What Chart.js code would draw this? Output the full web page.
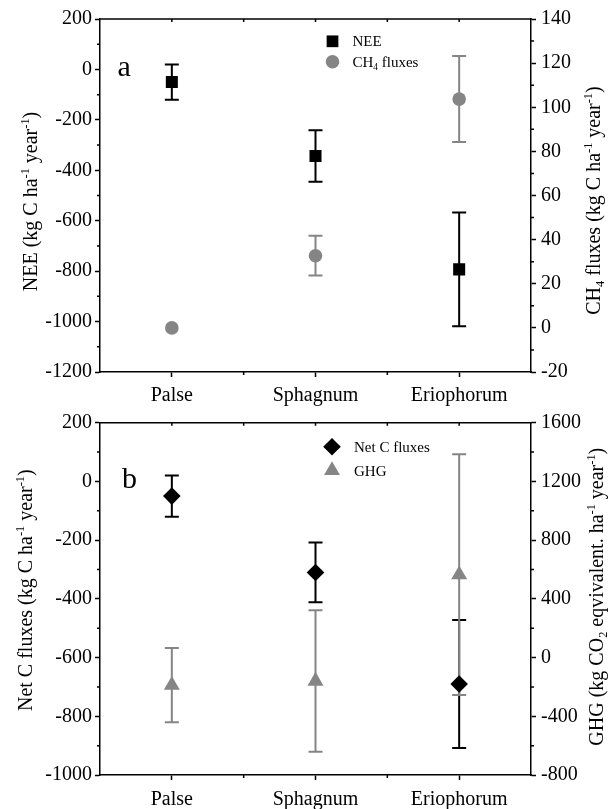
<!DOCTYPE html>
<html><head><meta charset="utf-8">
<script src="https://cdn.jsdelivr.net/npm/chart.js@4.4.0/dist/chart.umd.min.js"></script>
<style>
html,body{margin:0;padding:0;background:#fff;}
#wrap{position:relative;width:611px;height:809px;overflow:hidden;}
canvas{position:absolute;left:0;}
#c1{top:0;z-index:1}
#c2{top:400px;z-index:2}
</style></head><body>
<div id="wrap">
<canvas id="c1" width="611" height="412"></canvas>
<canvas id="c2" width="611" height="409"></canvas>
</div>
<script>
// ---------- data ----------
const categories = ['Palse', 'Sphagnum', 'Eriophorum'];
const neeValues  = [-50, -343, -793];
const neeErrors  = [70, 102, 226];
const ch4Values  = [0, 32.7, 103.7];
const ch4Errors  = [0, 9, 19.5];
const netCValues = [-50, -310, -690];
const netCErrors = [70, 102, 218];
const ghgValues  = [-188, -160, 565];
const ghgErrors  = [253, 482, 820];
const neeTicks  = [-1200, -1000, -800, -600, -400, -200, 0, 200];
const ch4Ticks  = [-20, 0, 20, 40, 60, 80, 100, 120, 140];
const netCTicks = [-1000, -800, -600, -400, -200, 0, 200];
const ghgTicks  = [-800, -400, 0, 400, 800, 1200, 1600];

// ---------- helpers ----------
const FONT = 'Liberation Serif';
Chart.defaults.font.family = FONT;
Chart.defaults.color = '#000';
const GREY = '#858585';

function drawRich(ctx, segs, x, y, angle, size, align) {
  ctx.save();
  ctx.translate(x, y);
  ctx.rotate(angle);
  ctx.fillStyle = '#000';
  ctx.textBaseline = 'alphabetic';
  ctx.textAlign = 'left';
  const fontFor = s => (s[1] ? size * 0.62 : size) + 'px "' + FONT + '"';
  let total = 0;
  segs.forEach(s => { ctx.font = fontFor(s); total += ctx.measureText(s[0]).width; });
  let cx = align === 'center' ? -total / 2 : 0;
  segs.forEach(s => {
    ctx.font = fontFor(s);
    const dy = s[1] === 1 ? -size * 0.42 : (s[1] === -1 ? size * 0.22 : 0);
    ctx.fillText(s[0], cx, dy);
    cx += ctx.measureText(s[0]).width;
  });
  ctx.restore();
}

function marker(ctx, style, r, x, y, color) {
  ctx.save();
  ctx.fillStyle = color;
  ctx.strokeStyle = color;
  if (Chart.helpers && Chart.helpers.drawPoint) {
    Chart.helpers.drawPoint(ctx, {pointStyle: style, radius: r, borderWidth: 0, rotation: 0}, x, y);
  }
  ctx.restore();
}

const errorBarPlugin = {
  id: 'errorBars',
  beforeDatasetsDraw(chart) {
    const ctx = chart.ctx;
    chart.data.datasets.forEach((ds, i) => {
      if (!ds.errors) return;
      const meta = chart.getDatasetMeta(i);
      const ys = chart.scales[ds.yAxisID];
      ctx.save();
      ctx.strokeStyle = ds.errorColor;
      ctx.lineWidth = 2;
      meta.data.forEach((pt, j) => {
        const e = ds.errors[j];
        if (!e) return;
        const v = ds.data[j];
        const yT = ys.getPixelForValue(v + e), yB = ys.getPixelForValue(v - e);
        const x = pt.x;
        ctx.beginPath();
        ctx.moveTo(x, yT); ctx.lineTo(x, yB);
        ctx.moveTo(x - 7, yT); ctx.lineTo(x + 7, yT);
        ctx.moveTo(x - 7, yB); ctx.lineTo(x + 7, yB);
        ctx.stroke();
      });
      ctx.restore();
    });
  }
};

const decoPlugin = {
  id: 'deco',
  afterDraw(chart, args, opts) {
    const ctx = chart.ctx;
    const a = chart.chartArea;
    ctx.save();
    ctx.strokeStyle = '#000';
    ctx.lineWidth = 1.5;
    // top frame
    ctx.beginPath();
    ctx.moveTo(a.left - 0.75, a.top); ctx.lineTo(a.right + 0.75, a.top);
    ctx.stroke();
    // minor ticks on y axes
    ['y', 'y1'].forEach(id => {
      const s = chart.scales[id];
      const t = s.ticks;
      ctx.beginPath();
      for (let i = 0; i < t.length - 1; i++) {
        const p = (s.getPixelForValue(t[i].value) + s.getPixelForValue(t[i + 1].value)) / 2;
        if (id === 'y') { ctx.moveTo(a.left, p); ctx.lineTo(a.left - 3, p); }
        else { ctx.moveTo(a.right, p); ctx.lineTo(a.right + 3, p); }
      }
      ctx.stroke();
    });
    // x minor ticks and top ticks
    const xs = chart.scales.x;
    ctx.beginPath();
    for (let i = 0; i < categories.length; i++) {
      const p = xs.getPixelForTick(i);
      ctx.moveTo(p, a.top); ctx.lineTo(p, a.top + 3);
      if (i < categories.length - 1) {
        const m = (p + xs.getPixelForTick(i + 1)) / 2;
        ctx.moveTo(m, a.bottom); ctx.lineTo(m, a.bottom + 3);
        ctx.moveTo(m, a.top); ctx.lineTo(m, a.top + 3);
      }
    }
    ctx.stroke();
    ctx.restore();

    // panel letter
    ctx.save();
    ctx.fillStyle = '#000';
    ctx.font = '30px "' + FONT + '"';
    ctx.textBaseline = 'alphabetic';
    ctx.fillText(opts.letter, a.left + opts.letterPos[0], a.top + opts.letterPos[1]);
    ctx.restore();

    // legend
    chart.data.datasets.forEach((ds, i) => {
      const lx = a.left + opts.legend[0];
      const ly = a.top + opts.legend[1] + i * opts.legend[2];
      marker(ctx, ds.pointStyle, ds.legendRadius, lx, ly, ds.pointBackgroundColor);
      drawRich(ctx, ds.legendText, lx + opts.legend[3], ly + 5, 0, 15, 'left');
    });

    // axis titles
    opts.titles.forEach(t => {
      drawRich(ctx, t.segs, t.x, a.top + t.cy, -Math.PI / 2, 20, 'center');
    });
  }
};

function yScale(ticksArr, position, width, pad) {
  return {
    type: 'linear', position,
    min: ticksArr[0], max: ticksArr[ticksArr.length - 1],
    afterBuildTicks: s => { s.ticks = ticksArr.map(v => ({value: v})); },
    afterFit: s => { s.width = width; },
    ticks: { font: {size: 20}, color: '#000', padding: pad, autoSkip: false, callback: v => String(v) },
    grid: { drawOnChartArea: false, drawTicks: true, tickLength: 5, tickColor: '#000', tickWidth: 1.5 },
    border: { display: true, color: '#000', width: 1.5 }
  };
}

function xScale(height, pad) {
  return {
    type: 'category', offset: true,
    afterFit: s => { s.height = height; },
    grid: { offset: false, drawOnChartArea: false, drawTicks: true, tickLength: 5, tickColor: '#000', tickWidth: 1.5 },
    border: { display: true, color: '#000', width: 1.5 },
    ticks: { font: {size: 20}, color: '#000', padding: pad, maxRotation: 0, autoSkip: false }
  };
}

function pointDs(label, data, errors, axis, style, r, color, legendText, legendRadius) {
  return {
    type: 'line', label, data, errors, yAxisID: axis, showLine: false,
    pointStyle: style, pointRadius: r, pointHoverRadius: r,
    pointBackgroundColor: color, pointBorderColor: color, pointBorderWidth: 0,
    borderColor: color, backgroundColor: color, errorColor: color === '#000' ? '#000' : GREY,
    legendText, legendRadius
  };
}

// ---------- top chart ----------
new Chart(document.getElementById('c1'), {
  type: 'line',
  data: {
    labels: categories,
    datasets: [
      pointDs('NEE', neeValues, neeErrors, 'y', 'rect', 8.5, '#000', [['NEE', 0]], 8.3),
      pointDs('CH4 fluxes', ch4Values, ch4Errors, 'y1', 'circle', 6.8, GREY, [['CH', 0], ['4', -1], [' fluxes', 0]], 6.8)
    ]
  },
  options: {
    responsive: false, animation: false, devicePixelRatio: 1,
    layout: { padding: { top: 19, left: 0, right: 0, bottom: 0 } },
    scales: {
      x: xScale(40, 7),
      y: yScale(neeTicks, 'left', 100, 3),
      y1: yScale(ch4Ticks, 'right', 80, 5)
    },
    plugins: {
      legend: { display: false }, tooltip: { enabled: false },
      deco: {
        letter: 'a', letterPos: [17.5, 57],
        legend: [232.5, 22.3, 20.5, 20],
        titles: [
          { segs: [['NEE (kg C ha', 0], ['-1', 1], [' year', 0], ['-1', 1], [')', 0]], x: 37, cy: 182.5 },
          { segs: [['CH', 0], ['4', -1], [' fluxes (kg C ha', 0], ['-1', 1], [' year', 0], ['-1', 1], [')', 0]], x: 600, cy: 181.5 }
        ]
      }
    }
  },
  plugins: [errorBarPlugin, decoPlugin]
});

// ---------- bottom chart ----------
new Chart(document.getElementById('c2'), {
  type: 'line',
  data: {
    labels: categories,
    datasets: [
      pointDs('Net C fluxes', netCValues, netCErrors, 'y', 'rectRot', 8.8, '#000', [['Net C fluxes', 0]], 8.8),
      pointDs('GHG', ghgValues, ghgErrors, 'y1', 'triangle', 9.2, GREY, [['GHG', 0]], 9.2)
    ]
  },
  options: {
    responsive: false, animation: false, devicePixelRatio: 1,
    layout: { padding: { top: 22.7, left: 0, right: 0, bottom: 0 } },
    scales: {
      x: xScale(34, 8),
      y: yScale(netCTicks, 'left', 100, 3),
      y1: yScale(ghgTicks, 'right', 80, 5)
    },
    plugins: {
      legend: { display: false }, tooltip: { enabled: false },
      deco: {
        letter: 'b', letterPos: [22, 65.5],
        legend: [232, 24, 23.8, 22],
        titles: [
          { segs: [['Net C fluxes (kg C ha', 0], ['-1', 1], [' year', 0], ['-1', 1], [')', 0]], x: 32, cy: 167.5 },
          { segs: [['GHG (kg CO', 0], ['2', -1], [' eqvivalent. ha', 0], ['-1', 1], [' year', 0], ['-1', 1], [')', 0]], x: 603, cy: 174 }
        ]
      }
    }
  },
  plugins: [errorBarPlugin, decoPlugin]
});
</script>
</body></html>
